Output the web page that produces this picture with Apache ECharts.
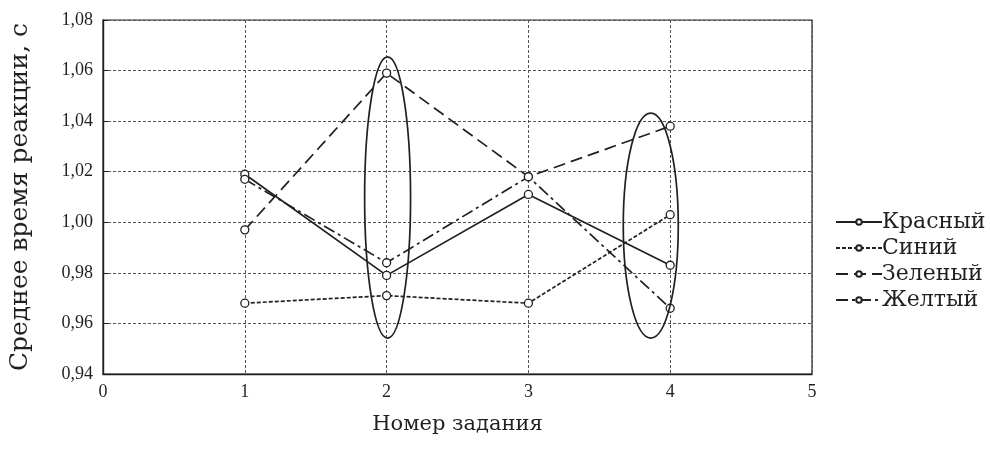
<!DOCTYPE html>
<html>
<head>
<meta charset="utf-8">
<script src="https://cdn.jsdelivr.net/npm/echarts@6/dist/echarts.min.js"></script>
<style>
  html, body { margin: 0; padding: 0; background: #fff; }
  #chart { width: 990px; height: 457px; }
</style>
</head>
<body>
<div id="chart"></div>
<script>
// номера заданий и средние значения по цветам
const tasks = [1, 2, 3, 4]
const red = [1.019, 0.979, 1.011, 0.983]
const blue = [0.968, 0.971, 0.968, 1.003]
const green = [0.997, 1.059, 1.018, 1.038]
const yellow = [1.017, 0.984, 1.018, 0.966]
const seriesNames = ['Красный', 'Синий', 'Зеленый', 'Желтый']
// выделенные овалами области (в единицах данных)
const highlights = [
    { x: 2.007, top: 1.0654, bottom: 0.9542, half: 0.162 },
    { x: 3.863, top: 1.0432, bottom: 0.9542, half: 0.194 }
]

const font = '"DejaVu Serif", "Liberation Serif", serif'
const tickFont = '"Liberation Serif", "DejaVu Serif", serif'
const ink = '#231f20'

const chart = echarts.init(document.getElementById('chart'))

const makeSeries = (name, values, type) => ({
    name,
    type: 'line',
    data: tasks.map((t, i) => [t, values[i]]),
    symbol: 'circle',
    symbolSize: 8,
    itemStyle: { color: '#fff', borderColor: ink, borderWidth: 1.3 },
    lineStyle: { color: ink, width: 1.7, type },
    emphasis: { disabled: true },
    z: 3
})

const option = {
    animation: false,
    backgroundColor: '#fff',
    grid: { left: 102, right: 178, top: 20, bottom: 83, show: true, borderColor: ink, borderWidth: 1.2 },
    legend: {
        orient: 'vertical',
        left: 830,
        top: 204,
        itemWidth: 46,
        itemHeight: 7,
        itemGap: 0,
        textStyle: { fontFamily: font, fontSize: 22, lineHeight: 26, color: ink, padding: [0, 0, 0, -5] },
        data: seriesNames
    },
    xAxis: {
        type: 'value',
        min: 0,
        max: 5,
        interval: 1,
        name: 'Номер задания',
        nameLocation: 'middle',
        nameGap: 40,
        nameTextStyle: { fontFamily: font, fontSize: 21, color: ink },
        axisLine: { lineStyle: { color: ink, width: 1.4 } },
        axisTick: { show: false },
        axisLabel: { fontFamily: tickFont, fontSize: 18, color: ink, margin: 9 },
        splitLine: { lineStyle: { color: '#555', type: [3, 2], width: 1 } }
    },
    yAxis: {
        type: 'value',
        min: 0.94,
        max: 1.08,
        interval: 0.02,
        name: 'Среднее время реакции, с',
        nameLocation: 'middle',
        nameGap: 70,
        nameTextStyle: { fontFamily: font, fontSize: 25, color: ink },
        axisLine: { show: true, lineStyle: { color: ink, width: 1.4 } },
        axisTick: { show: true, inside: true, length: 5, lineStyle: { color: ink } },
        axisLabel: {
            fontFamily: tickFont,
            fontSize: 18,
            color: ink,
            margin: 10,
            formatter: (v) => v.toFixed(2).replace('.', ',')
        },
        splitLine: { lineStyle: { color: '#555', type: [3, 2], width: 1 } }
    },
    series: [
        makeSeries(seriesNames[0], red, 'solid'),
        makeSeries(seriesNames[1], blue, [4, 2]),
        makeSeries(seriesNames[2], green, [12, 6]),
        makeSeries(seriesNames[3], yellow, [12, 4, 3, 4])
    ]
}
chart.setOption(option)

// овалы вокруг заданий 2 и 4
const ellipses = highlights.map((h) => {
    const c = chart.convertToPixel({ gridIndex: 0 }, [h.x, (h.top + h.bottom) / 2])
    const t = chart.convertToPixel({ gridIndex: 0 }, [h.x + h.half, h.top])
    return {
        type: 'ellipse',
        shape: { cx: c[0], cy: c[1], rx: t[0] - c[0], ry: c[1] - t[1] },
        style: { fill: 'none', stroke: ink, lineWidth: 1.7 },
        z: 10,
        silent: true
    }
})
chart.setOption({ graphic: ellipses })
</script>
</body>
</html>
